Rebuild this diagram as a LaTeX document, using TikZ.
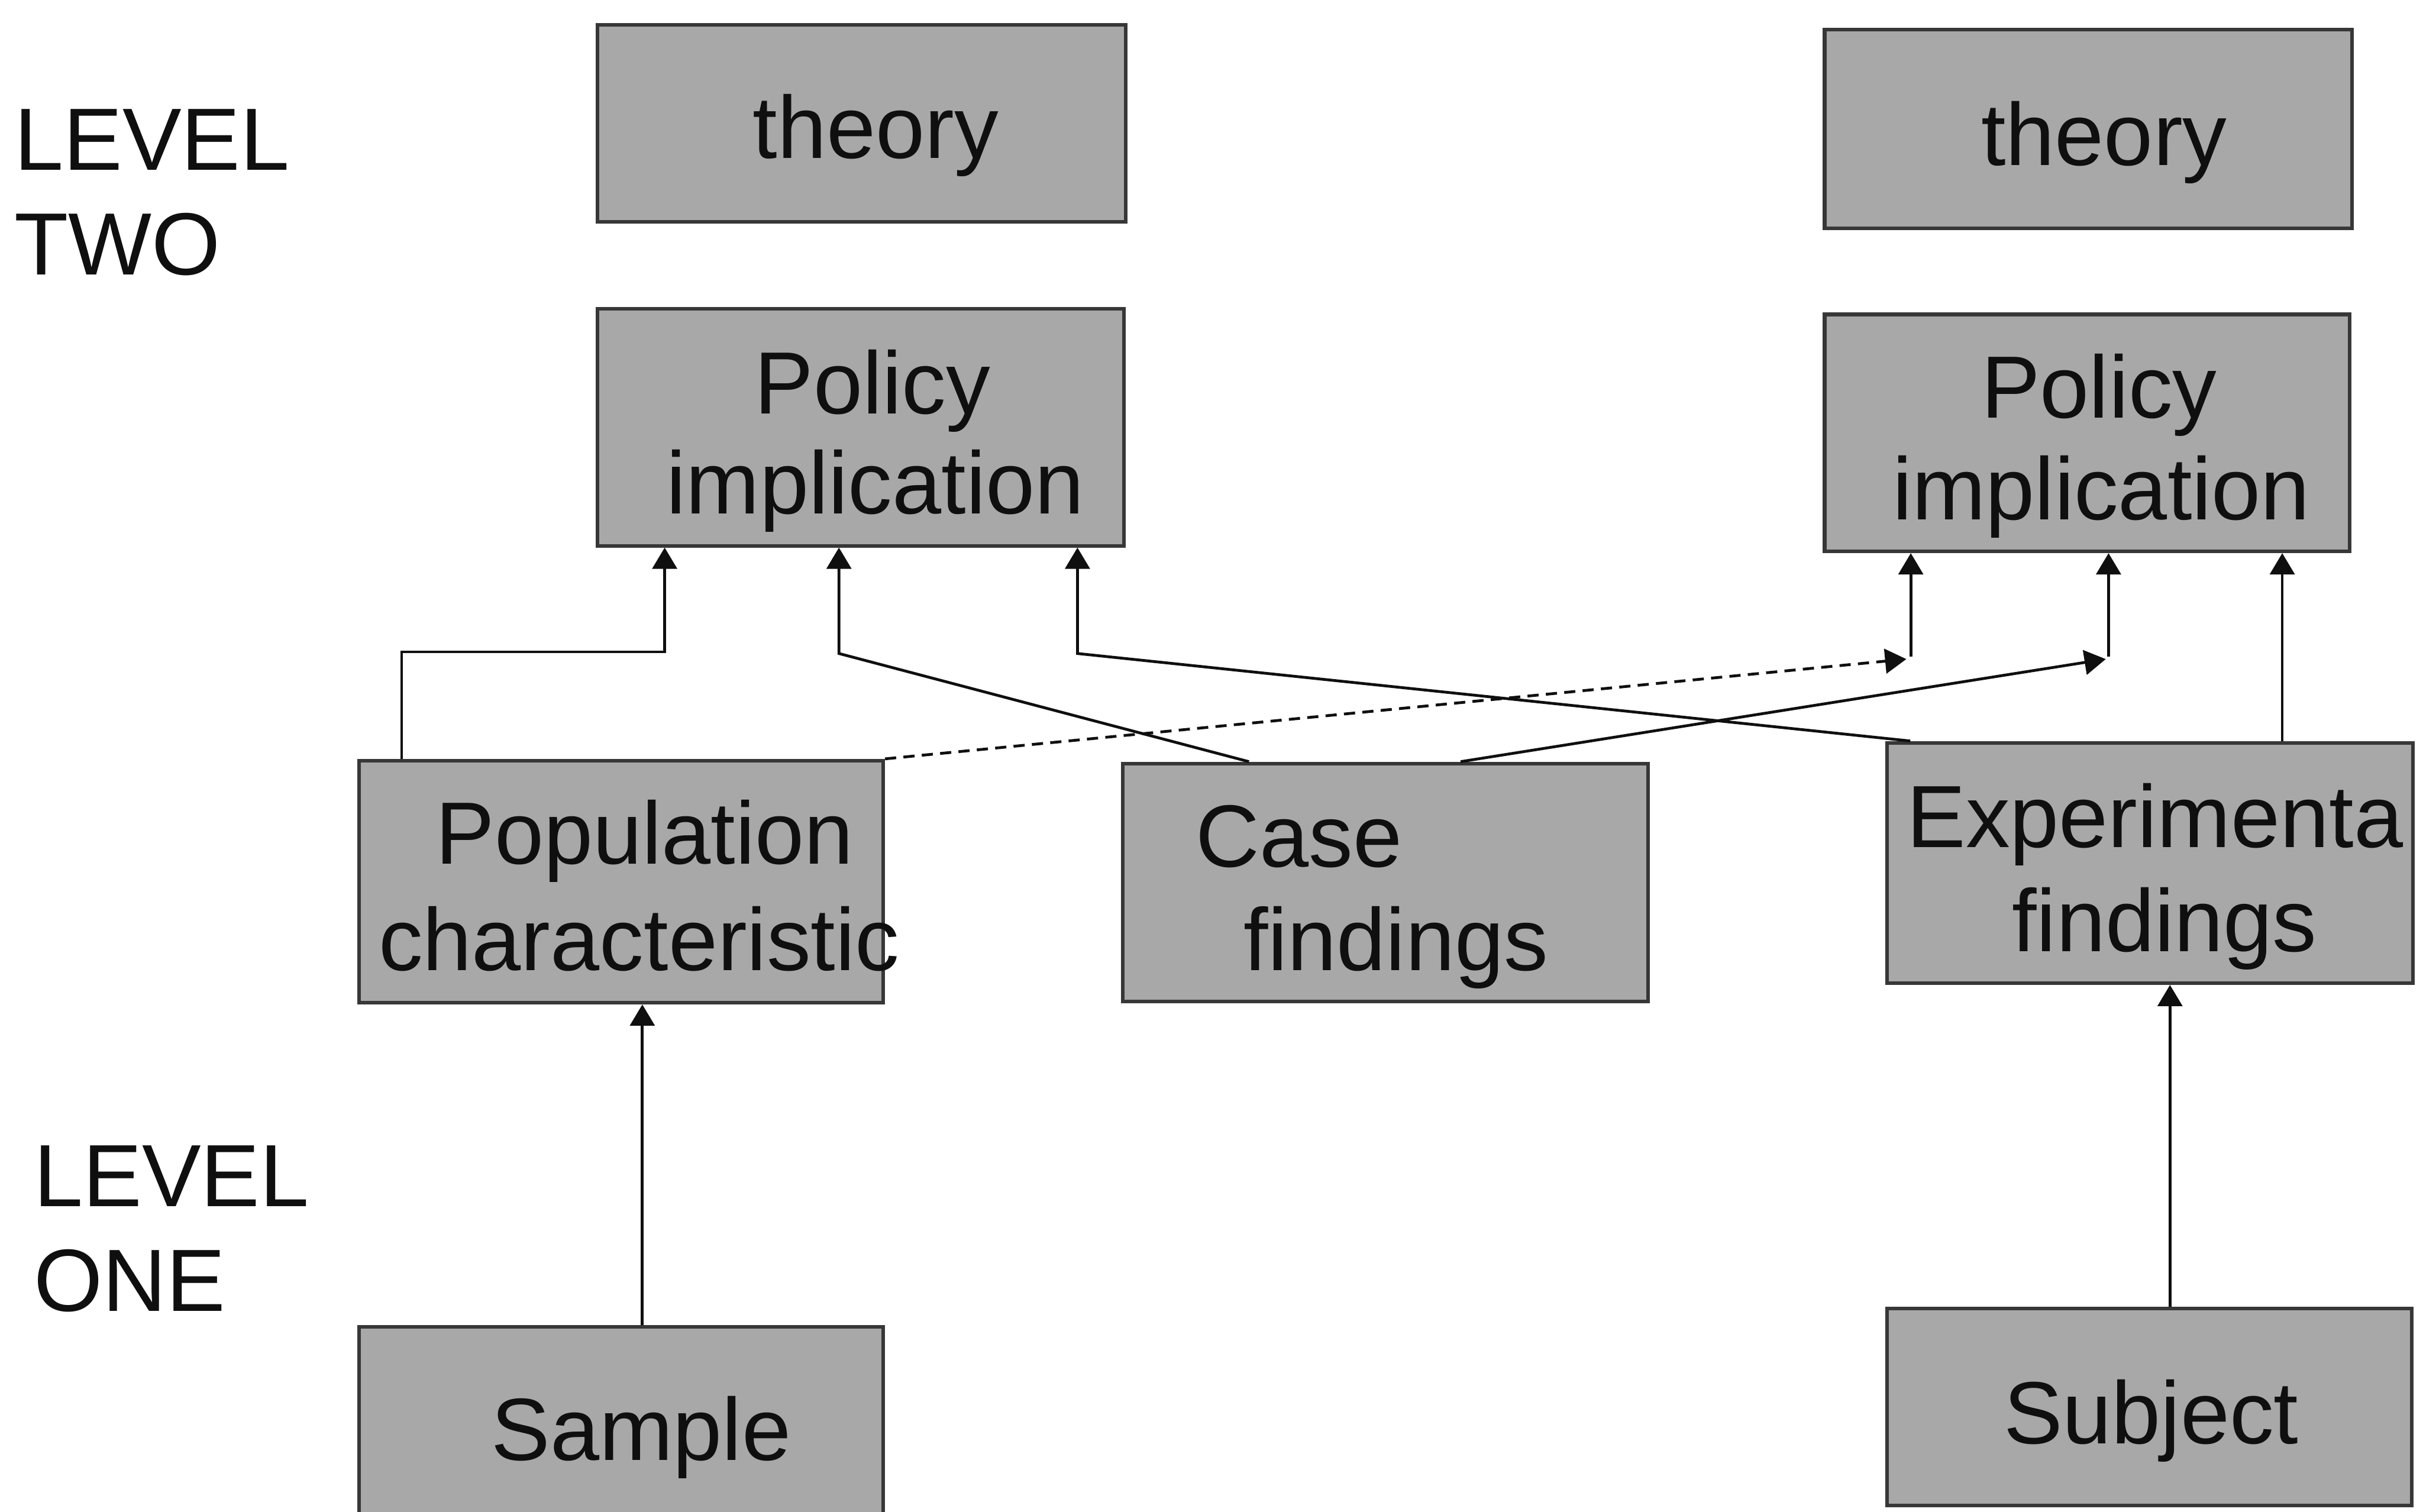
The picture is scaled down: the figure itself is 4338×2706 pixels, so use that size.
\documentclass[tikz,border=0pt]{standalone}
\usepackage{fontspec}
\setmainfont{Liberation Sans}
\usetikzlibrary{arrows.meta}
\definecolor{boxfill}{RGB}{168,168,168}
\definecolor{boxline}{RGB}{55,55,55}
\definecolor{ink}{RGB}{15,15,15}
\tikzset{
  box/.style={draw=boxline, fill=boxfill, line width=0.065cm, inner sep=0pt, rectangle},
  lbl/.style={inner sep=0pt, anchor=base, text=ink, font=\fontsize{45}{54}\selectfont},
  lvl/.style={inner sep=0pt, anchor=base west, text=ink, font=\fontsize{45}{54}\selectfont},
  conn/.style={draw=ink, line width=0.05cm},
  arrowline/.style={conn, -{Triangle[length=0.38cm,width=0.44cm]}},
  dashconn/.style={conn, dash pattern=on 0.2cm off 0.13cm, -{Triangle[length=0.38cm,width=0.44cm]}}
}
\begin{document}
\begin{tikzpicture}[x=0.01cm,y=-0.01cm]
\useasboundingbox (0,0) rectangle (4338,2706);
\clip (0,0) rectangle (4338,2706);
\fill[white] (0,0) rectangle (4338,2706);

% boxes
\node[box, minimum width=9.45cm, minimum height=3.52cm] (theoryL) at (1542.5,221) {};
\node[box, minimum width=9.44cm, minimum height=3.56cm] (theoryR) at (3739,231) {};
\node[box, minimum width=9.42cm, minimum height=4.24cm] (polL) at (1541,765) {};
\node[box, minimum width=9.39cm, minimum height=4.24cm] (polR) at (3736.5,775) {};
\node[box, minimum width=9.38cm, minimum height=4.33cm] (pop) at (1112,1578.5) {};
\node[box, minimum width=9.40cm, minimum height=4.26cm] (case) at (2480,1580) {};
\node[box, minimum width=9.41cm, minimum height=4.30cm] (exp) at (3849.5,1545) {};
\node[box, minimum width=9.38cm, minimum height=3.74cm] (sample) at (1112,2563) {};
\node[box, minimum width=9.39cm, minimum height=3.52cm] (subject) at (3848.5,2519) {};

% texts
\node[lbl] (tThL) at (1568,283) {theory};
\node[lbl] (tThR) at (3767,296) {theory};
\node[lbl] (tPoL1) at (1562,741) {Policy};
\node[lbl] (tPoL2) at (1567,920) {implication};
\node[lbl] (tPoR1) at (3758,748) {Policy};
\node[lbl] (tPoR2) at (3762,930) {implication};
\node[lbl] (tPop1) at (1154,1547) {Population};
\node[lbl] (tPop2) at (1144,1737) {characteristic};
\node[lbl] (tCase1) at (2326,1552) {Case};
\node[lbl] (tCase2) at (2499,1737) {findings};
\node[lbl] (tExp1) at (3858,1517) {Experimenta};
\node[lbl] (tExp2) at (3875,1703) {findings};
\node[lbl] (tSam) at (1148,2614) {Sample};
\node[lbl] (tSub) at (3851,2585) {Subject};

\node[lvl] (lv2a) at (25,304) {LEVEL};
\node[lvl] (lv2b) at (25,492) {TWO};
\node[lvl] (lv1a) at (60,2160) {LEVEL};
\node[lvl] (lv1b) at (60,2347) {ONE};

% connector waypoints
\coordinate (a1) at (719,1167);
\coordinate (a2) at (1190,1167);
\coordinate (b0) at (2236,0);
\coordinate (b1) at (1502,1170);
\coordinate (c0) at (3420,0);
\coordinate (c1) at (1929,1170);
\coordinate (d0) at (2615,0);
\coordinate (d1) at (3770,1180);
\coordinate (d2) at (3775,1176);
\coordinate (e1) at (3413,1180);
\coordinate (e2) at (3421,1176);
\coordinate (f0) at (4086,0);
\coordinate (g0) at (1150,0);
\coordinate (h0) at (3885,0);

% connectors
\draw[arrowline] (a1 |- pop.north) -- (a1) -- (a2) -- (a2 |- polL.south);
\draw[arrowline] (b0 |- case.north) -- (b1) -- (b1 |- polL.south);
\draw[arrowline] (c0 |- exp.north) -- (c1) -- (c1 |- polL.south);
\draw[arrowline] (d0 |- case.north) -- (d1);
\draw[arrowline] (d2) -- (d2 |- polR.south);
\draw[dashconn] (pop.north east) -- (e1);
\draw[arrowline] (e2) -- (e2 |- polR.south);
\draw[arrowline] (f0 |- exp.north) -- (f0 |- polR.south);
\draw[arrowline] (g0 |- sample.north) -- (g0 |- pop.south);
\draw[arrowline] (h0 |- subject.north) -- (h0 |- exp.south);
\end{tikzpicture}
\end{document}
